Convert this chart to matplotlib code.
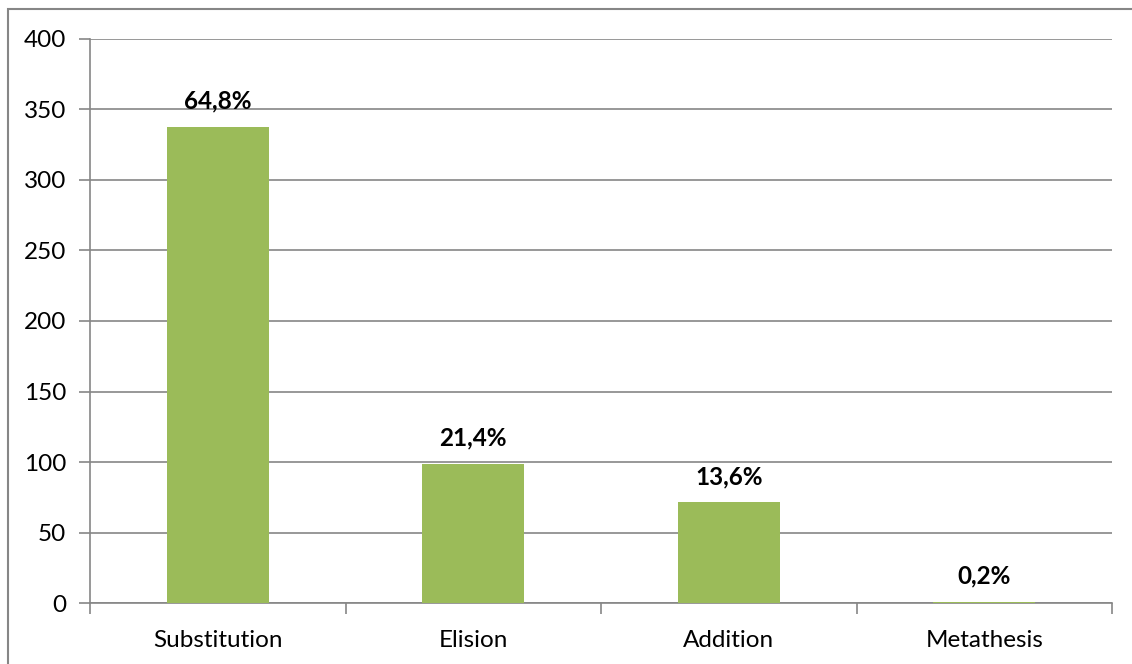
import matplotlib.pyplot as plt
from matplotlib.patches import Rectangle

# counts per error type, with the share shown above each bar
categories = ['Substitution', 'Elision', 'Addition', 'Metathesis']
counts = [337.5, 98.5, 71.5, 1]
shares = ['64,8%', '21,4%', '13,6%', '0,2%']

plt.rcParams['font.family'] = ['Lato', 'DejaVu Sans']
grey = '#868686'

fig = plt.figure(figsize=(11.32, 6.64), dpi=100)
ax = fig.add_axes([90 / 1132, 1 - 603.3 / 664, 1022 / 1132, 564.6 / 664])

x = range(len(categories))
rects = ax.bar(x, counts, width=0.4, color='#9BBB59', zorder=3)

for rect, s in zip(rects, shares):
    ax.text(rect.get_x() + rect.get_width() / 2, rect.get_height() + 13, s,
            ha='center', va='baseline', fontsize=17.5, fontweight='bold', color='black')

ax.set_xlim(-0.5, len(categories) - 0.5)
ax.set_ylim(0, 400)
ax.set_yticks(range(0, 401, 50))
ax.set_xticks(x)
ax.set_xticklabels(categories)
ax.set_xticks([i - 0.5 for i in range(len(categories) + 1)], minor=True)

ax.yaxis.grid(True, color=grey, linewidth=1.2, zorder=0)
ax.tick_params(axis='y', direction='out', length=8, color=grey, width=1.2,
               labelsize=17.5, pad=9)
ax.tick_params(axis='x', which='major', length=0, labelsize=17.5, pad=19)
ax.tick_params(axis='x', which='minor', direction='out', length=8, color=grey, width=1.2)

for side in ['top', 'right']:
    ax.spines[side].set_visible(False)
for side in ['left', 'bottom']:
    ax.spines[side].set_color(grey)
    ax.spines[side].set_linewidth(1.2)

# outer chart frame
fig.patches.append(Rectangle((8 / 1132, -0.1), 1.2, 1.1 - 9 / 664, transform=fig.transFigure,
                             fill=False, edgecolor=grey, linewidth=1.5))

plt.savefig('out.png', dpi=100)
